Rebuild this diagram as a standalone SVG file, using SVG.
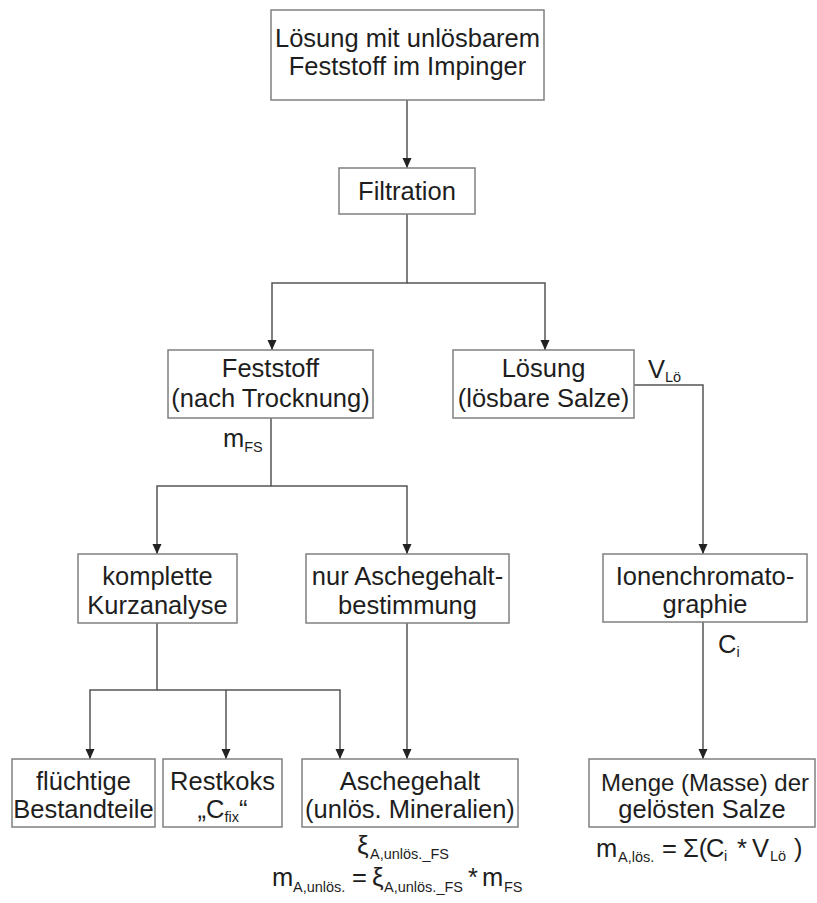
<svg xmlns="http://www.w3.org/2000/svg" width="817" height="903" viewBox="0 0 817 903">
<style>
.box{fill:#fff;stroke:#808080;stroke-width:1.5}
.t{font-family:"Liberation Sans",Arial,sans-serif;font-size:25.5px;fill:#1e1e1e;text-anchor:middle}
.l{font-family:"Liberation Sans",Arial,sans-serif;font-size:25.5px;fill:#1e1e1e}
.s{font-size:14.5px}
.x{font-size:26px}
.c{fill:none;stroke:#555;stroke-width:1.5}
</style>
<defs>
<marker id="ah" markerUnits="userSpaceOnUse" markerWidth="10" markerHeight="10" refX="10" refY="5" orient="auto">
<path d="M0,0.5 L10,5 L0,9.5 z" fill="#222"/>
</marker>
</defs>
<rect width="817" height="903" fill="#fff"/>
<g id="connectors">
<path class="c" d="M407,100 V168" marker-end="url(#ah)"/>
<path class="c" d="M407,214 V283 H272 V350" marker-end="url(#ah)"/>
<path class="c" d="M407,283 H545 V350" marker-end="url(#ah)"/>
<path class="c" d="M634,385 H703 V554" marker-end="url(#ah)"/>
<path class="c" d="M271,418 V486 H157 V554" marker-end="url(#ah)"/>
<path class="c" d="M271,486 H407 V554" marker-end="url(#ah)"/>
<path class="c" d="M157,623 V690 H90 V759" marker-end="url(#ah)"/>
<path class="c" d="M157,690 H226 V759" marker-end="url(#ah)"/>
<path class="c" d="M226,690 H340 V759" marker-end="url(#ah)"/>
<path class="c" d="M407,623 V759" marker-end="url(#ah)"/>
<path class="c" d="M703,622 V759" marker-end="url(#ah)"/>
</g>
<g id="labels">
<text class="l" x="223" y="447">m<tspan class="s" dy="5">FS</tspan></text>
<text class="l" x="648" y="378">V<tspan class="s" dy="4">Lö</tspan></text>
<text class="l" x="718" y="653">C<tspan class="s" dy="4">i</tspan></text>
<text class="l" x="357" y="854"><tspan class="x">ξ</tspan><tspan class="s" x="370" dy="5">A,unlös._FS</tspan></text>
<text class="l" x="272" y="886">m<tspan class="s" x="293" dy="6">A,unlös.</tspan><tspan x="352" dy="-6">=</tspan><tspan class="x" x="372">ξ</tspan><tspan class="s" x="384" dy="6">A,unlös._FS</tspan><tspan x="468" dy="-6">*</tspan><tspan x="482">m</tspan><tspan class="s" x="504" dy="6">FS</tspan></text>
<text class="l" x="596" y="857">m<tspan class="s" x="618" dy="5">A,lös.</tspan><tspan x="662" dy="-5">=</tspan><tspan x="683">Σ(</tspan><tspan x="706">C</tspan><tspan class="s" x="724" dy="4">i</tspan><tspan x="737" dy="-4">*</tspan><tspan x="752">V</tspan><tspan class="s" x="770" dy="4">Lö</tspan><tspan x="794" dy="-4">)</tspan></text>
</g>
<g id="n-top"><rect class="box" x="271" y="10" width="273" height="90"/><text class="t" x="407.5" y="47">Lösung mit unlösbarem</text><text class="t" x="407.5" y="75">Feststoff im Impinger</text></g>
<g id="n-filtration"><rect class="box" x="339" y="168" width="136" height="46"/><text class="t" x="407" y="200">Filtration</text></g>
<g id="n-feststoff"><rect class="box" x="168" y="350" width="205" height="68"/><text class="t" x="270.5" y="377">Feststoff</text><text class="t" x="270.5" y="407">(nach Trocknung)</text></g>
<g id="n-loesung"><rect class="box" x="453" y="350" width="181" height="68"/><text class="t" x="543.5" y="377">Lösung</text><text class="t" x="543.5" y="407">(lösbare Salze)</text></g>
<g id="n-komplette"><rect class="box" x="78" y="554" width="159" height="69"/><text class="t" x="157.5" y="585">komplette</text><text class="t" x="157.5" y="614">Kurzanalyse</text></g>
<g id="n-nurasche"><rect class="box" x="306" y="554" width="203" height="69"/><text class="t" x="407.5" y="585">nur Aschegehalt-</text><text class="t" x="407.5" y="614">bestimmung</text></g>
<g id="n-ionen"><rect class="box" x="603" y="554" width="204" height="68"/><text class="t" x="705" y="585">Ionenchromato-</text><text class="t" x="705" y="613">graphie</text></g>
<g id="n-fluechtige"><rect class="box" x="12" y="759" width="143" height="68"/><text class="t" x="83.5" y="790">flüchtige</text><text class="t" x="83.5" y="818">Bestandteile</text></g>
<g id="n-restkoks"><rect class="box" x="163" y="759" width="119" height="68"/><text class="t" x="222.5" y="790">Restkoks</text><text class="t" x="222.5" y="818">„C<tspan class="s" dy="4">fix</tspan><tspan dy="-4">“</tspan></text></g>
<g id="n-aschegehalt"><rect class="box" x="302" y="759" width="216" height="68"/><text class="t" x="410" y="790">Aschegehalt</text><text class="t" x="410" y="818">(unlös. Mineralien)</text></g>
<g id="n-menge"><rect class="box" x="589" y="759" width="226" height="68"/><text class="t" x="705" y="791" style="font-size:24px">Menge (Masse) der</text><text class="t" x="702" y="818">gelösten Salze</text></g>
</svg>
